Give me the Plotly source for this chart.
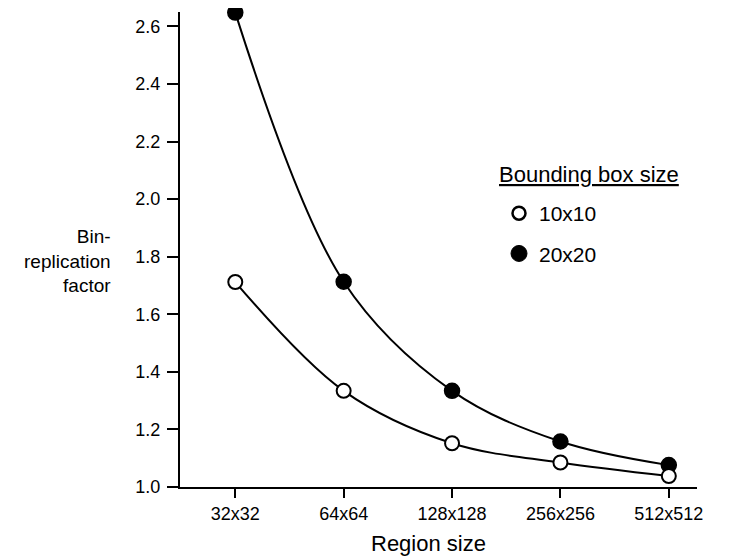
import plotly.graph_objects as go

categories = ["32x32", "64x64", "128x128", "256x256", "512x512"]
box_10 = [1.712, 1.334, 1.152, 1.085, 1.038]
box_20 = [2.648, 1.713, 1.334, 1.158, 1.076]
y_ticks = [1.0, 1.2, 1.4, 1.6, 1.8, 2.0, 2.2, 2.4, 2.6]

FONT = "Liberation Sans, Arial, Helvetica, sans-serif"
x_idx = list(range(len(categories)))

# The page body has an 8px default margin, so the figure is sized to fill the
# remaining window area and positions below are given in window pixels.
OFF = 8
PL, PR, PT, PB = 180, 697, 12, 487  # plot area in window pixels
PW, PH = PR - PL, PB - PT


def px(x):
    return (x - PL) / PW


def py(y):
    return (PB - y) / PH


fig = go.Figure()
fig.add_trace(go.Scatter(
    x=x_idx, y=box_20, name="20x20", mode="lines+markers",
    line=dict(color="black", width=2, shape="spline"),
    marker=dict(symbol="circle", size=15, color="black",
                line=dict(color="black", width=1.5)),
    showlegend=False, cliponaxis=False,
))
fig.add_trace(go.Scatter(
    x=x_idx, y=box_10, name="10x10", mode="lines+markers",
    line=dict(color="black", width=2, shape="spline"),
    marker=dict(symbol="circle", size=14, color="white",
                line=dict(color="black", width=2)),
    showlegend=False, cliponaxis=False,
))
fig.add_trace(go.Scatter(
    x=[None], y=[None], name="10x10", mode="markers",
    marker=dict(symbol="circle", size=13, color="white",
                line=dict(color="black", width=2.5)),
    legendrank=1, legendgroup="a",
))
fig.add_trace(go.Scatter(
    x=[None], y=[None], name="20x20", mode="markers",
    marker=dict(symbol="circle", size=16, color="black",
                line=dict(color="black", width=1)),
    legendrank=2, legendgroup="b",
))

W, H = 733 - OFF, 556 - OFF
fig.update_layout(
    width=W, height=H,
    margin=dict(l=PL - OFF, r=W - (PR - OFF), t=PT - OFF, b=H - (PB - OFF)),
    paper_bgcolor="white", plot_bgcolor="white",
    font=dict(family=FONT, size=18, color="black"),
    showlegend=True,
    legend=dict(
        x=px(499), y=py(193), xanchor="left", yanchor="top",
        font=dict(size=21), tracegroupgap=10,
        bgcolor="rgba(0,0,0,0)",
    ),
    xaxis=dict(
        range=[-0.51, 4.26], tickmode="array", tickvals=x_idx, ticktext=categories,
        showline=True, linecolor="black", linewidth=2,
        ticks="outside", ticklen=9, tickwidth=2, tickcolor="black",
        showgrid=False, zeroline=False,
    ),
    yaxis=dict(
        range=[1.0, 2.65], tickmode="array", tickvals=y_ticks,
        ticktext=[f"{v:.1f}" for v in y_ticks],
        showline=True, linecolor="black", linewidth=2,
        ticks="outside", ticklen=11, tickwidth=2, tickcolor="black",
        showgrid=False, zeroline=False, ticklabelstandoff=3,
    ),
    annotations=[
        dict(
            text="Bin-<br>replication<br>factor", xref="paper", yref="y",
            x=px(113), y=1.785, xanchor="right", yanchor="middle",
            align="right", showarrow=False, font=dict(size=19),
        ),
        dict(
            text="Region size", xref="paper", yref="paper",
            x=px(428), y=py(543), xanchor="center",
            yanchor="middle", showarrow=False, font=dict(size=22),
        ),
        dict(
            text="<u>Bounding box size</u>", xref="paper", yref="paper",
            x=px(497), y=py(174), xanchor="left",
            yanchor="middle", showarrow=False, font=dict(size=22),
        ),
    ],
)

fig.write_html("out.html")
